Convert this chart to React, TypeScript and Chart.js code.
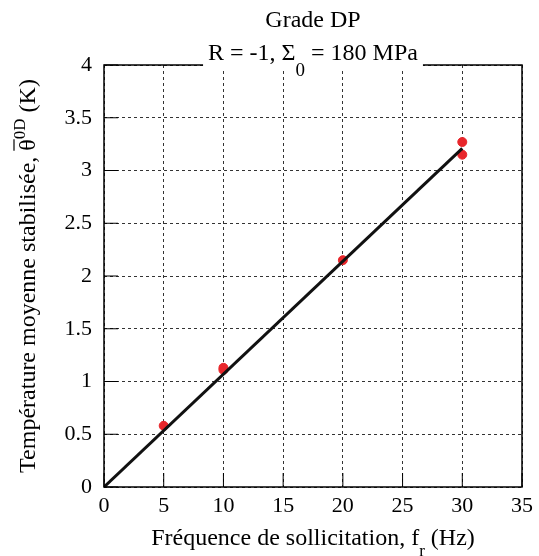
import React, { useEffect, useRef } from "react";
import { Chart, registerables } from "chart.js";

Chart.register(...registerables);

const freqPoints = [5, 10, 10, 20, 30, 30];
const tempPoints = [0.58, 1.11, 1.13, 2.15, 3.27, 3.15];
const fitX = [0, 30];
const fitY = [0, 3.21];
const xTickStep = 5;
const yTickStep = 0.5;

const FONT = "'Liberation Serif'";

const decorPlugin = {
  id: "decor",
  afterDraw(chart: any) {
    const { ctx, chartArea } = chart;
    const { left, right, top, bottom } = chartArea;
    const xs = chart.scales.x;
    const ys = chart.scales.y;
    ctx.save();
    ctx.strokeStyle = "#000";
    ctx.lineWidth = 1.5;
    ctx.setLineDash([]);
    ctx.strokeRect(left, top, right - left, bottom - top);
    ctx.lineWidth = 1;
    ys.ticks.forEach((t: any) => {
      const y = ys.getPixelForValue(t.value);
      ctx.beginPath();
      ctx.moveTo(left, y);
      ctx.lineTo(left + 14, y);
      ctx.stroke();
    });
    xs.ticks.forEach((t: any) => {
      const x = xs.getPixelForValue(t.value);
      ctx.beginPath();
      ctx.moveTo(x, bottom);
      ctx.lineTo(x, bottom - 14);
      ctx.stroke();
    });

    ctx.fillStyle = "#000";
    ctx.textBaseline = "alphabetic";
    const cx = (left + right) / 2;
    ctx.font = `24px ${FONT}`;
    ctx.textAlign = "center";
    ctx.fillText("Grade DP", cx, 27);
    const a = "R = -1, Σ";
    const sub = "0";
    const b = " = 180 MPa";
    ctx.font = `24px ${FONT}`;
    const wa = ctx.measureText(a).width;
    const wb = ctx.measureText(b).width;
    ctx.font = `19px ${FONT}`;
    const ws = ctx.measureText(sub).width;
    const total = wa + ws + wb;
    const sx = cx - total / 2;
    ctx.fillStyle = "#fff";
    ctx.fillRect(sx - 5, top - 6, total + 10, 12);
    ctx.fillStyle = "#000";
    ctx.textAlign = "left";
    ctx.font = `24px ${FONT}`;
    ctx.fillText(a, sx, 60);
    ctx.font = `19px ${FONT}`;
    ctx.fillText(sub, sx + wa, 76);
    ctx.font = `24px ${FONT}`;
    ctx.fillText(b, sx + wa + ws, 60);

    const xa = "Fréquence de sollicitation, f";
    const xsub = "r";
    const xb = " (Hz)";
    ctx.font = `24px ${FONT}`;
    const wxa = ctx.measureText(xa).width;
    const wxb = ctx.measureText(xb).width;
    ctx.font = `17px ${FONT}`;
    const wxs = ctx.measureText(xsub).width;
    const xt = wxa + wxs + wxb;
    const xx = cx - xt / 2;
    ctx.font = `24px ${FONT}`;
    ctx.fillText(xa, xx, 545);
    ctx.font = `17px ${FONT}`;
    ctx.fillText(xsub, xx + wxa, 556);
    ctx.font = `24px ${FONT}`;
    ctx.fillText(xb, xx + wxa + wxs, 545);

    const ya = "Température moyenne stabilisée, ";
    const th = "θ";
    const ysup = "0D";
    const yb = " (K)";
    ctx.font = `24px ${FONT}`;
    const wya = ctx.measureText(ya).width;
    const wth = ctx.measureText(th).width;
    const wyb = ctx.measureText(yb).width;
    ctx.font = `17px ${FONT}`;
    const wys = ctx.measureText(ysup).width;
    const yt = wya + wth + wys + wyb;
    const cy = (top + bottom) / 2;
    ctx.translate(35, cy);
    ctx.rotate(-Math.PI / 2);
    const y0 = -yt / 2;
    ctx.font = `24px ${FONT}`;
    ctx.fillText(ya, y0, 0);
    ctx.fillText(th, y0 + wya, 0);
    ctx.lineWidth = 1.2;
    ctx.beginPath();
    ctx.moveTo(y0 + wya, -21);
    ctx.lineTo(y0 + wya + wth, -21);
    ctx.stroke();
    ctx.font = `17px ${FONT}`;
    ctx.fillText(ysup, y0 + wya + wth, -10);
    ctx.font = `24px ${FONT}`;
    ctx.fillText(yb, y0 + wya + wth + wys, 0);
    ctx.restore();
  },
};

export default function App() {
  const ref = useRef<HTMLCanvasElement>(null);
  useEffect(() => {
    if (!ref.current) return;
    const chart = new Chart(ref.current, {
      type: "scatter",
      data: {
        datasets: [
          {
            type: "line",
            label: "fit",
            data: fitX.map((x, i) => ({ x, y: fitY[i] })),
            borderColor: "#111",
            borderWidth: 3,
            pointRadius: 0,
            fill: false,
            order: 0,
          } as any,
          {
            type: "scatter",
            label: "mesures",
            data: freqPoints.map((x, i) => ({ x, y: tempPoints[i] })),
            backgroundColor: "#e8262b",
            borderColor: "#e8262b",
            pointRadius: 4.5,
            order: 1,
          },
        ],
      },
      options: {
        responsive: false,
        animation: false,
        layout: { padding: { left: 0, top: 65, right: 13, bottom: 0 } },
        plugins: { legend: { display: false }, title: { display: false }, tooltip: { enabled: false } },
        scales: {
          x: {
            type: "linear",
            min: 0,
            max: 35,
            ticks: {
              stepSize: xTickStep,
              color: "#000",
              font: { family: FONT, size: 22 },
              padding: 6,
              maxRotation: 0,
              callback: (v: any) => String(Number(v)),
            },
            grid: { color: "#333", lineWidth: 1, drawTicks: false },
            border: { display: false, dash: [3, 3] },
            afterFit: (s: any) => {
              s.height = 69;
            },
          },
          y: {
            type: "linear",
            min: 0,
            max: 4,
            ticks: {
              stepSize: yTickStep,
              color: "#000",
              font: { family: FONT, size: 22 },
              padding: 12,
              callback: (v: any) => String(Number(v)),
            },
            grid: { color: "#333", lineWidth: 1, drawTicks: false },
            border: { display: false, dash: [3, 3] },
            afterFit: (s: any) => {
              s.width = 104;
            },
          },
        },
      },
      plugins: [decorPlugin],
    } as any);
    return () => chart.destroy();
  }, []);
  return (
    <div style={{ position: "fixed", left: 0, top: 0, width: 539, height: 556, background: "#fff" }}>
      <canvas ref={ref} width={539} height={556} style={{ display: "block" }} />
    </div>
  );
}
